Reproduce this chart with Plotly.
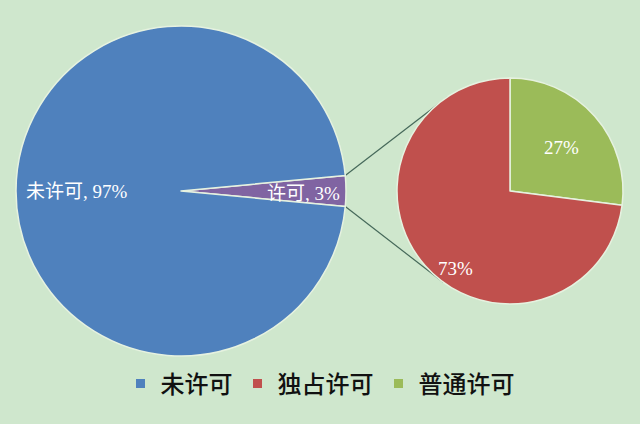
import math
import plotly.graph_objects as go

# ---- data ----
main_labels = ["未许可", "许可"]
main_values = [97, 3]
sub_labels = ["独占许可", "普通许可"]
sub_values = [73, 27]
legend_labels = ["未许可", "独占许可", "普通许可"]

# ---- styling ----
W, H = 640, 424
BG = "#cfe7cd"
C_BLUE, C_PURPLE, C_RED, C_GREEN = "#4f81bd", "#8064a2", "#c0504d", "#9bbb59"
BORDER = "#e6f2e0"

# pie geometry in pixels (center x, center y, radius)
big = (181, 191, 165)
small = (510, 191, 113)

def dom(c):
    cx, cy, r = c
    return dict(x=[(cx - r) / W, (cx + r) / W], y=[1 - (cy + r) / H, 1 - (cy - r) / H])

tot_main = sum(main_values)
share_small = main_values[1] / tot_main * 360.0
rot_big = 90 - share_small / 2

fig = go.Figure()
fig.add_trace(go.Pie(
    labels=[main_labels[1], main_labels[0]], values=[main_values[1], main_values[0]],
    sort=False, direction="clockwise", rotation=rot_big,
    marker=dict(colors=[C_PURPLE, C_BLUE], line=dict(color=BORDER, width=1.5)),
    textinfo="none", hoverinfo="label+percent", showlegend=False, domain=dom(big),
))
fig.add_trace(go.Pie(
    labels=[sub_labels[1], sub_labels[0]], values=[sub_values[1], sub_values[0]],
    sort=False, direction="clockwise", rotation=0,
    marker=dict(colors=[C_GREEN, C_RED], line=dict(color=BORDER, width=1.5)),
    textinfo="none", hoverinfo="label+percent", showlegend=False, domain=dom(small),
))

# legend entries
for name, col in zip(legend_labels, [C_BLUE, C_RED, C_GREEN]):
    fig.add_trace(go.Scatter(x=[None], y=[None], mode="markers", name=name,
                             marker=dict(symbol="square", size=9, color=col)))

# connector lines from the small slice of the big pie to the sub pie
a1 = math.radians(share_small / 2)
bx, by, br = big
p_top = (bx + br * math.cos(a1), by - br * math.sin(a1))
p_bot = (bx + br * math.cos(a1), by + br * math.sin(a1))
sx, sy, sr = small
q_top = (sx + sr * math.cos(math.radians(123)), sy - sr * math.sin(math.radians(123)))
q_bot = (sx + sr * math.cos(math.radians(-126)), sy - sr * math.sin(math.radians(-126)))
shapes = []
for p, q in [(p_top, q_top), (p_bot, q_bot)]:
    shapes.append(dict(type="line", xref="x", yref="y", x0=p[0], y0=p[1], x1=q[0], y1=q[1],
                       line=dict(color="#46695a", width=1.2), layer="below"))

# data labels
lbl_font = dict(family="Liberation Serif, Noto Sans CJK SC", size=19, color="white")
annos = []
pct_main = [v / tot_main * 100 for v in main_values]
tot_sub = sum(sub_values)
pct_sub = [v / tot_sub * 100 for v in sub_values]
label_pos = [(77, 191), (303, 193), (455, 268), (561, 147)]
texts = [f"{main_labels[0]}, {pct_main[0]:.0f}%", f"{main_labels[1]}, {pct_main[1]:.0f}%",
         f"{pct_sub[0]:.0f}%", f"{pct_sub[1]:.0f}%"]
for (x, y), t in zip(label_pos, texts):
    annos.append(dict(x=x, y=y, xref="x", yref="y", text=t, showarrow=False,
                      font=lbl_font, xanchor="center", yanchor="middle"))

fig.update_layout(
    width=W, height=H, margin=dict(l=0, r=0, t=0, b=0),
    paper_bgcolor=BG, plot_bgcolor=BG,
    xaxis=dict(range=[0, W], visible=False, fixedrange=True, domain=[0, 1]),
    yaxis=dict(range=[H, 0], visible=False, fixedrange=True, domain=[0, 1]),
    shapes=shapes, annotations=annos,
    legend=dict(orientation="h", x=0.5, xanchor="center", y=1 - 384 / H, yanchor="middle",
                font=dict(family="Noto Sans CJK SC", size=24, color="#111111", weight=500),
                bgcolor="rgba(0,0,0,0)", itemwidth=30, tracegroupgap=0),
)

fig.write_html("out.html", config={"displayModeBar": False},
               post_script="document.body.style.margin='0';document.body.style.overflow='hidden';")
